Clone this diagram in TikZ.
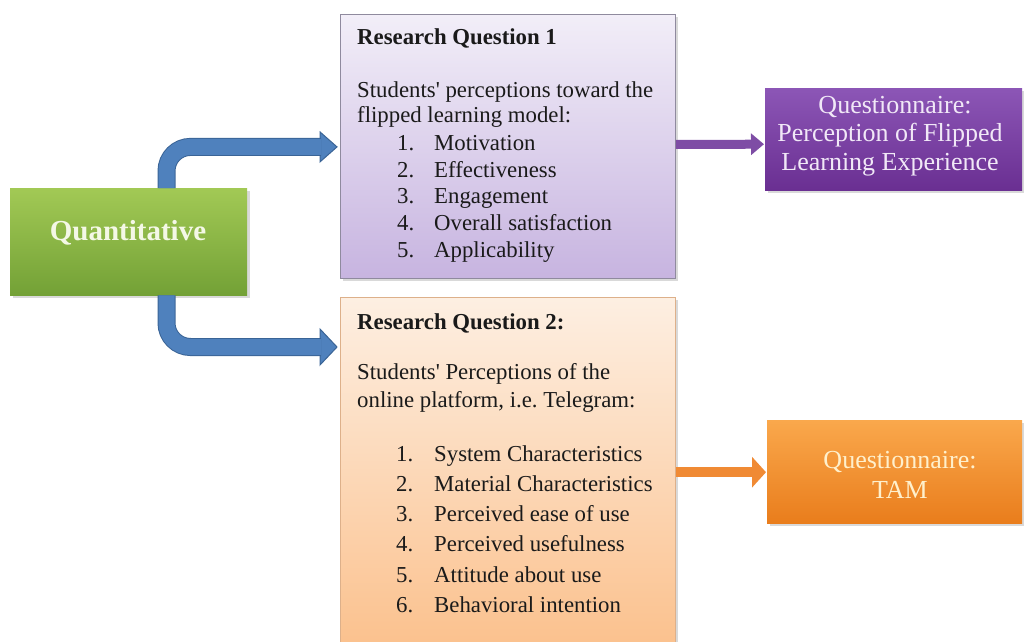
\documentclass[tikz,border=0pt]{standalone}
\usepackage{fontspec}
\setmainfont{Liberation Serif}
\usetikzlibrary{shadows,calc,arrows.meta}
\frenchspacing
\definecolor{greenT}{HTML}{A2C955}
\definecolor{greenB}{HTML}{73A136}
\definecolor{blueF}{HTML}{4F81BD}
\definecolor{blueD}{HTML}{3A6496}
\definecolor{lavT}{HTML}{F2EEF8}
\definecolor{lavB}{HTML}{C7B4E0}
\definecolor{lavD}{HTML}{8F8A9E}
\definecolor{peachT}{HTML}{FDEFE2}
\definecolor{peachB}{HTML}{FBBD86}
\definecolor{peachD}{HTML}{DDB08A}
\definecolor{purT}{HTML}{8C56B6}
\definecolor{purB}{HTML}{6A2F92}
\definecolor{purA}{HTML}{7E4DA5}
\definecolor{oraT}{HTML}{FAA84C}
\definecolor{oraB}{HTML}{E97D1C}
\definecolor{oraA}{HTML}{F08A34}
\definecolor{txtc}{HTML}{1A1A1A}
\definecolor{purtxt}{HTML}{F1E8F7}
\definecolor{oratxt}{HTML}{FFF0CC}
\definecolor{quanttxt}{HTML}{F4F8E6}
\tikzset{
  box/.style={rectangle, anchor=north west, inner sep=0pt,
    drop shadow={opacity=0.3, shadow xshift=2.5pt, shadow yshift=-2.5pt}},
  body/.style={anchor=base west, inner sep=0pt, text=txtc,
    font=\fontsize{22.8}{26}\selectfont},
  rqtitle/.style={body, font=\fontsize{22.8}{26}\selectfont\bfseries},
  qtext/.style={anchor=base, inner sep=0pt, font=\fontsize{26}{29}\selectfont},
  shaft/.style={draw=blueD, line width=1pt, double=blueF, double distance=16pt,
    rounded corners=24pt},
  head/.style={fill=blueF, draw=blueD, line width=1pt, line join=miter},
}
\begin{document}
\begin{tikzpicture}[x=1pt,y=-1pt]
\useasboundingbox (0,0) rectangle (1024,641);

% boxes
\node[box, top color=greenT, bottom color=greenB, minimum width=237pt, minimum height=107pt] (quant) at (10,188) {};
\node[box, draw=lavD, line width=0.8pt, top color=lavT, bottom color=lavB, minimum width=335pt, minimum height=264pt] (rq1) at (340,14) {};
\node[box, draw=peachD, line width=0.8pt, top color=peachT, bottom color=peachB, minimum width=335pt, minimum height=380pt] (rq2) at (340,297) {};
\node[box, top color=purT, bottom color=purB, minimum width=257pt, minimum height=102pt] (qp) at (765,88) {};
\node[box, top color=oraT, bottom color=oraB, minimum width=255pt, minimum height=103pt] (tam) at (767,420) {};

% Quantitative label
\node[anchor=base, inner sep=0pt, text=quanttxt, font=\fontsize{29}{32}\selectfont\bfseries] (qlabel) at (128,240) {Quantitative};

% blue elbow arrows
\coordinate (a1s) at ($(quant.north west)+(156.5,0)$);
\coordinate (a1e) at ($(rq1.west)+(-19,0.5)$);
\coordinate (a1t) at ($(rq1.west)+(-3,0.5)$);
\draw[head] (a1t) -- ++(-17,-15) -- ++(0,30) -- cycle;
\draw[shaft] (a1s) |- (a1e);

\coordinate (a2s) at ($(quant.south west)+(156.5,0)$);
\coordinate (a2e) at ($(rq2.north west)+(-19,50)$);
\coordinate (a2t) at ($(rq2.north west)+(-3,50)$);
\draw[head] (a2t) -- ++(-17,-18) -- ++(0,36) -- cycle;
\draw[shaft] (a2s) |- (a2e);

% right arrows
\coordinate (p1) at ($(rq1.east)+(0,-2)$);
\coordinate (p2) at ($(qp.west)+(-1,5)$);
\draw[purA, line width=9pt, -{Triangle[width=21pt,length=13pt]}] (p1) -- (p2);
\coordinate (o1) at ($(rq2.east |- tam.west)+(0,0.5)$);
\coordinate (o2) at ($(tam.west)+(-1,0.5)$);
\draw[oraA, line width=10pt, -{Triangle[width=30pt,length=14pt]}] (o1) -- (o2);

% RQ1 text
\node[rqtitle] (t1) at (357,44) {Research Question 1};
\node[body] (t1a) at (357,97) {Students\textquotesingle{} perceptions toward the};
\node[body] (t1b) at (357,122.5) {flipped learning model:};
\foreach \txt [count=\k] in {Motivation, Effectiveness, Engagement, Overall satisfaction, Applicability}{
  \node[body] (n1\k) at (397,{150.5+26.7*(\k-1)}) {\k.};
  \node[body] (i1\k) at (434,{150.5+26.7*(\k-1)}) {\txt};
}

% RQ2 text
\node[rqtitle] (t2) at (357,329) {Research Question 2:};
\node[body] (t2a) at (357,379.5) {Students\textquotesingle{} Perceptions of the};
\node[body] (t2b) at (357,407.5) {online platform, i.e. Telegram:};
\foreach \txt [count=\k] in {System Characteristics, Material Characteristics, Perceived ease of use, Perceived usefulness, Attitude about use, Behavioral intention}{
  \node[body] (n2\k) at (396,{461+30.3*(\k-1)}) {\k.};
  \node[body] (i2\k) at (434,{461+30.3*(\k-1)}) {\txt};
}

% questionnaire texts
\node[qtext, text=purtxt] (q1) at (895,113) {Questionnaire:};
\node[qtext, text=purtxt] (q2) at (890,141.5) {Perception of Flipped};
\node[qtext, text=purtxt] (q3) at (890,170) {Learning Experience};
\node[qtext, text=oratxt] (q4) at (900,468) {Questionnaire:};
\node[qtext, text=oratxt] (q5) at (900,498) {TAM};
\end{tikzpicture}
\end{document}
